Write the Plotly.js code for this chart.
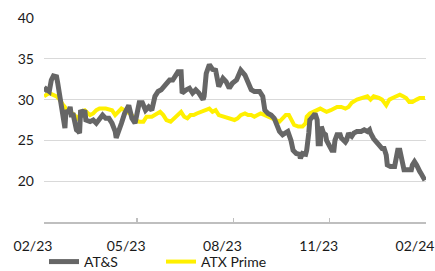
<!DOCTYPE html>
<html>
<head>
<meta charset="utf-8">
<script src="https://cdn.plot.ly/plotly-3.0.1.min.js"></script>
<style>html,body{margin:0;padding:0;background:#fff;}#chart{width:435px;height:271px;}</style>
</head>
<body>
<div id="chart"></div>
<script>
// AT&S share price (EUR)
const atsDates = ["2023-02-01","2023-02-03","2023-02-06","2023-02-08","2023-02-10","2023-02-13","2023-02-14","2023-02-16","2023-02-18","2023-02-19","2023-02-21","2023-02-22","2023-02-24","2023-02-26","2023-02-27","2023-03-01","2023-03-02","2023-03-04","2023-03-06","2023-03-07","2023-03-08","2023-03-10","2023-03-12","2023-03-13","2023-03-17","2023-03-20","2023-03-23","2023-03-26","2023-03-29","2023-04-01","2023-04-04","2023-04-07","2023-04-10","2023-04-11","2023-04-13","2023-04-16","2023-04-19","2023-04-23","2023-04-26","2023-04-29","2023-05-03","2023-05-06","2023-05-09","2023-05-12","2023-05-15","2023-05-18","2023-05-21","2023-05-24","2023-05-28","2023-06-01","2023-06-04","2023-06-07","2023-06-09","2023-06-12","2023-06-13","2023-06-17","2023-06-20","2023-06-23","2023-06-26","2023-06-29","2023-07-03","2023-07-04","2023-07-06","2023-07-09","2023-07-12","2023-07-15","2023-07-18","2023-07-22","2023-07-25","2023-07-28","2023-07-31","2023-08-04","2023-08-07","2023-08-08","2023-08-12","2023-08-15","2023-08-18","2023-08-21","2023-08-26","2023-08-29","2023-08-31","2023-09-03","2023-09-06","2023-09-09","2023-09-11","2023-09-14","2023-09-17","2023-09-20","2023-09-22","2023-09-25","2023-09-27","2023-09-30","2023-10-03","2023-10-04","2023-10-06","2023-10-09","2023-10-10","2023-10-12","2023-10-13","2023-10-17","2023-10-18","2023-10-20","2023-10-21","2023-10-23","2023-10-24","2023-10-26","2023-10-28","2023-10-29","2023-10-31","2023-11-02","2023-11-03","2023-11-05","2023-11-06","2023-11-08","2023-11-11","2023-11-12","2023-11-14","2023-11-16","2023-11-17","2023-11-19","2023-11-20","2023-11-22","2023-11-24","2023-11-27","2023-12-01","2023-12-04","2023-12-07","2023-12-09","2023-12-10","2023-12-13","2023-12-17","2023-12-20","2023-12-21","2023-12-23","2023-12-25","2023-12-26","2023-12-29","2024-01-02","2024-01-04","2024-01-05","2024-01-07","2024-01-08","2024-01-10","2024-01-11","2024-01-15","2024-01-18","2024-01-19","2024-01-21","2024-01-23","2024-01-24","2024-01-26","2024-01-27","2024-01-29","2024-01-31"];
const atsValues = [31.0,31.3,31.0,32.4,32.9,32.8,32.1,30.4,29.1,28.6,26.5,28.7,28.3,29.1,28.1,28.1,27.5,26.3,26.1,25.9,28.7,28.3,28.7,27.5,27.3,27.5,27.1,27.7,28.1,27.7,27.7,27.1,26.1,25.3,25.9,27.1,28.3,29.3,27.7,27.1,29.6,29.6,28.7,29.1,28.7,30.4,31.0,31.2,31.8,32.4,32.4,33.0,33.4,33.4,30.8,31.2,31.4,30.8,31.2,30.8,30.0,30.4,33.2,34.3,33.7,33.6,31.6,32.6,32.2,31.4,32.0,32.4,33.4,33.6,33.0,32.0,31.2,31.0,31.0,30.4,28.7,28.3,28.1,27.7,26.9,26.1,25.7,25.9,26.1,25.0,23.8,23.4,23.3,22.8,23.4,23.3,23.8,25.9,27.5,28.1,28.3,27.5,24.6,24.6,26.7,25.9,25.7,25.0,24.6,24.2,23.8,23.8,25.0,25.7,25.7,25.3,25.0,24.8,25.0,25.9,25.7,25.5,25.9,26.1,26.1,26.3,26.1,26.3,25.9,25.2,24.6,24.2,24.0,24.0,23.2,22.0,21.8,21.8,23.2,23.8,23.8,23.0,22.2,21.4,21.4,21.4,22.0,22.4,22.0,21.6,21.2,21.0,20.5,20.1];

// ATX Prime (rebased)
const atxDates = ["2023-02-01","2023-02-06","2023-02-13","2023-02-16","2023-02-19","2023-02-21","2023-02-22","2023-02-26","2023-03-02","2023-03-06","2023-03-08","2023-03-12","2023-03-17","2023-03-20","2023-03-23","2023-03-26","2023-04-01","2023-04-07","2023-04-10","2023-04-13","2023-04-16","2023-04-19","2023-04-26","2023-04-29","2023-05-03","2023-05-07","2023-05-10","2023-05-15","2023-05-20","2023-05-23","2023-05-26","2023-05-29","2023-06-02","2023-06-05","2023-06-09","2023-06-12","2023-06-15","2023-06-18","2023-06-21","2023-06-24","2023-06-27","2023-07-01","2023-07-04","2023-07-09","2023-07-12","2023-07-15","2023-07-18","2023-07-23","2023-07-28","2023-08-02","2023-08-05","2023-08-08","2023-08-12","2023-08-15","2023-08-18","2023-08-21","2023-08-24","2023-08-27","2023-08-31","2023-09-03","2023-09-08","2023-09-11","2023-09-14","2023-09-17","2023-09-20","2023-09-23","2023-09-25","2023-09-28","2023-10-02","2023-10-06","2023-10-09","2023-10-10","2023-10-13","2023-10-17","2023-10-20","2023-10-23","2023-10-26","2023-10-29","2023-11-02","2023-11-05","2023-11-08","2023-11-12","2023-11-16","2023-11-19","2023-11-22","2023-11-27","2023-12-02","2023-12-07","2023-12-10","2023-12-13","2023-12-18","2023-12-21","2023-12-25","2023-12-28","2023-12-31","2024-01-04","2024-01-07","2024-01-10","2024-01-13","2024-01-16","2024-01-19","2024-01-23","2024-01-26","2024-01-31"];
const atxValues = [30.4,30.8,30.4,30.0,29.4,29.1,28.7,28.5,28.1,27.6,28.5,28.7,28.1,28.3,28.7,28.9,28.9,28.7,28.1,28.5,28.9,28.7,28.1,27.5,27.3,27.3,27.9,27.9,28.3,28.5,28.1,27.5,27.3,27.7,28.1,28.5,27.9,27.7,28.1,28.1,28.3,28.5,28.7,28.9,28.5,28.7,28.1,27.9,27.7,27.5,27.7,28.1,28.3,28.1,28.1,27.9,28.1,28.3,28.1,27.9,27.7,27.5,27.3,27.7,28.1,28.1,27.7,26.9,26.7,26.7,27.1,27.9,28.3,28.5,28.7,28.9,28.7,28.5,28.7,28.9,29.1,29.1,28.9,29.1,29.6,30.0,30.2,30.4,30.0,30.4,30.2,30.0,29.3,30.0,30.2,30.4,30.6,30.4,30.2,29.7,29.7,30.0,30.2,30.2];

const yTicks = [20, 25, 30, 35, 40];
const xTicks = ["2023-02-01","2023-05-01","2023-08-01","2023-11-01","2024-02-01"];
const xTickText = ["02/23","05/23","08/23","11/23","02/24"];

const FONT = "Lato, 'Open Sans', sans-serif";

const traces = [
  {x: atxDates, y: atxValues, name: "ATX Prime", type: "scatter", mode: "lines",
   line: {color: "#fff000", width: 4}},
  {x: atsDates, y: atsValues, name: "AT&S", type: "scatter", mode: "lines",
   line: {color: "#666666", width: 5}}
];

const layout = {
  width: 435, height: 271,
  margin: {l: 44, r: 9, t: 18, b: 49, autoexpand: false},
  paper_bgcolor: "#fff", plot_bgcolor: "#fff",
  font: {family: FONT, size: 14, color: "#1a1a1a"},
  showlegend: true,
  legend: {orientation: "h", x: 0, xanchor: "left", y: -0.196, yanchor: "middle",
           traceorder: "reversed", entrywidth: 72, entrywidthmode: "pixels",
           font: {family: FONT, size: 14, color: "#1a1a1a"}, bgcolor: "rgba(0,0,0,0)"},
  xaxis: {type: "date", range: ["2023-02-01", "2024-02-01"],
          tickvals: xTicks, ticktext: xTickText,
          showgrid: false, zeroline: false,
          showline: true, linecolor: "#bfbfbf", linewidth: 1.5,
          ticks: "inside", ticklen: 4, tickcolor: "#bfbfbf", tickwidth: 1.5,
          ticklabelstandoff: 11, ticklabelshift: -11,
          tickfont: {family: FONT, size: 14, color: "#1a1a1a"}, fixedrange: true},
  yaxis: {range: [15, 40], tickvals: yTicks,
          showgrid: true, gridcolor: "#d9d9d9", gridwidth: 1,
          zeroline: false, showline: false, ticks: "",
          ticklabelstandoff: 9,
          tickfont: {family: FONT, size: 14, color: "#1a1a1a"}, fixedrange: true}
};

Plotly.newPlot("chart", traces, layout, {displayModeBar: false, staticPlot: true});
</script>
</body>
</html>
